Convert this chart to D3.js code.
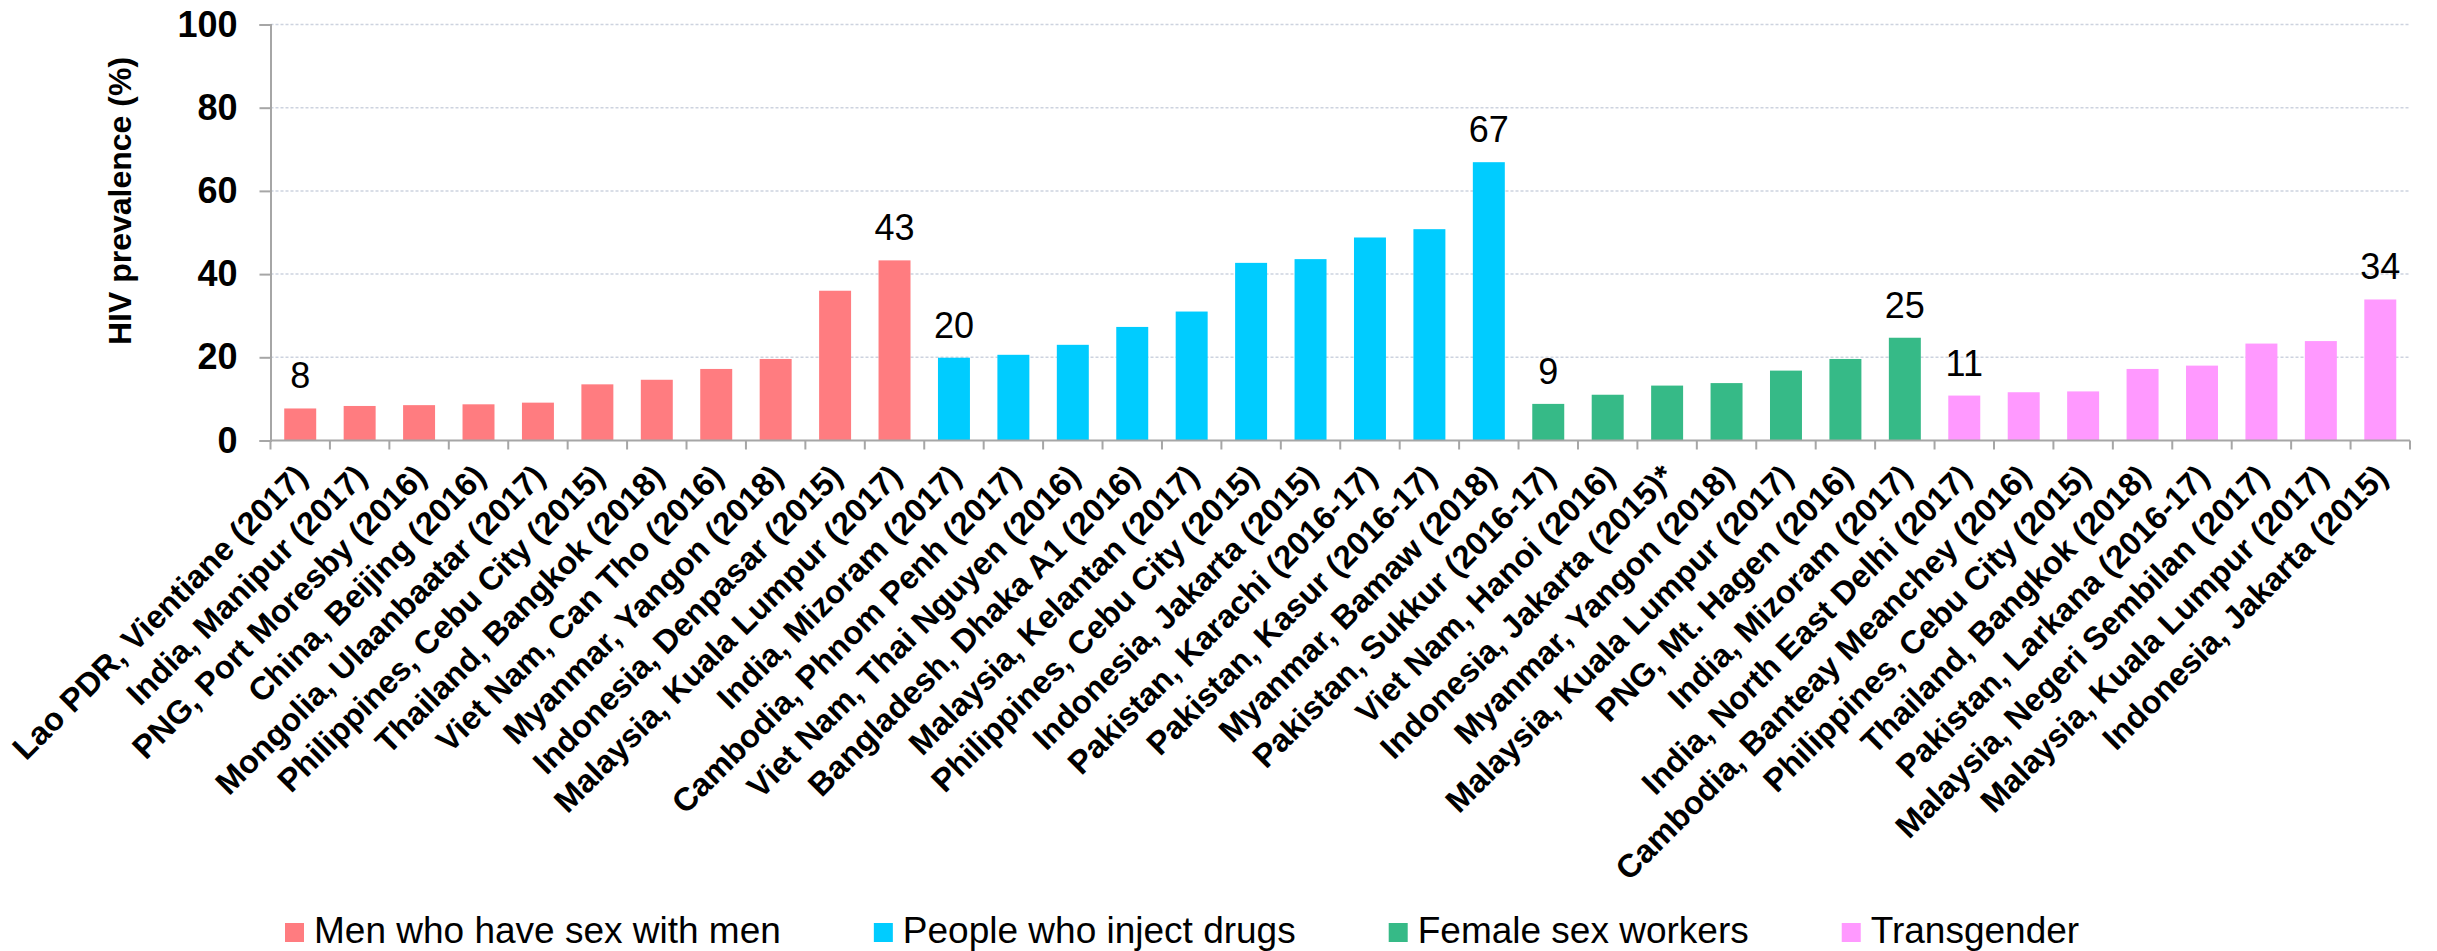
<!DOCTYPE html>
<html>
<head>
<meta charset="utf-8">
<script src="https://cdn.jsdelivr.net/npm/d3@7"></script>
<style>
  html, body { margin: 0; padding: 0; background: #fff; }
  svg { display: block; font-family: "Liberation Sans", Arial, sans-serif; }
</style>
</head>
<body>
<svg id="chart" width="2437" height="951"></svg>
<script>
// Données
const groupNames = ["Men who have sex with men", "People who inject drugs", "Female sex workers", "Transgender"];
const groupColors = ["#ff7c80", "#00ccff", "#36ba87", "#ff99ff"];

const msmSites = ["Lao PDR, Vientiane (2017)", "India, Manipur (2017)", "PNG, Port Moresby (2016)", "China, Beijing (2016)",
  "Mongolia, Ulaanbaatar (2017)", "Philippines, Cebu City (2015)", "Thailand, Bangkok (2018)", "Viet Nam, Can Tho (2016)",
  "Myanmar, Yangon (2018)", "Indonesia, Denpasar (2015)", "Malaysia, Kuala Lumpur (2017)"];
const msmValues = [7.7, 8.3, 8.5, 8.7, 9.1, 13.5, 14.6, 17.2, 19.6, 36.0, 43.3];

const pwidSites = ["India, Mizoram (2017)", "Cambodia, Phnom Penh (2017)", "Viet Nam, Thai Nguyen (2016)", "Bangladesh, Dhaka A1 (2016)",
  "Malaysia, Kelantan (2017)", "Philippines, Cebu City (2015)", "Indonesia, Jakarta (2015)", "Pakistan, Karachi (2016-17)",
  "Pakistan, Kasur (2016-17)", "Myanmar, Bamaw (2018)"];
const pwidValues = [19.9, 20.6, 23.0, 27.3, 31.0, 42.7, 43.6, 48.8, 50.8, 66.9];

const fswSites = ["Pakistan, Sukkur (2016-17)", "Viet Nam, Hanoi (2016)", "Indonesia, Jakarta (2015)*", "Myanmar, Yangon (2018)",
  "Malaysia, Kuala Lumpur (2017)", "PNG, Mt. Hagen (2016)", "India, Mizoram (2017)"];
const fswValues = [8.8, 11.0, 13.2, 13.8, 16.8, 19.6, 24.7];

const tgSites = ["India, North East Delhi (2017)", "Cambodia, Banteay Meanchey (2016)", "Philippines, Cebu City (2015)",
  "Thailand, Bangkok (2018)", "Pakistan, Larkana (2016-17)", "Malaysia, Negeri Sembilan (2017)",
  "Malaysia, Kuala Lumpur (2017)", "Indonesia, Jakarta (2015)"];
const tgValues = [10.8, 11.6, 11.8, 17.2, 18.0, 23.3, 23.9, 33.9];

const yTicks = [0, 20, 40, 60, 80, 100];

// Construire la table
const sites = [msmSites, pwidSites, fswSites, tgSites];
const values = [msmValues, pwidValues, fswValues, tgValues];
const data = [];
sites.forEach((list, g) => {
  list.forEach((name, i) => {
    data.push({
      id: g + "-" + i, name: name, value: values[g][i], group: g,
      labelled: i === 0 || i === list.length - 1
    });
  });
});

const svg = d3.select("#chart");
const plotLeft = 270.5, plotRight = 2410, plotTop = 24.5, plotBottom = 440.5;

const x = d3.scaleBand()
  .domain(data.map(d => d.id))
  .range([plotLeft, plotRight])
  .paddingInner(0.462)
  .paddingOuter(0.231);

const y = d3.scaleLinear().domain([0, 100]).range([plotBottom, plotTop]);

// Grille
svg.append("g")
  .selectAll("line")
  .data(yTicks.filter(t => t > 0))
  .enter().append("line")
  .attr("x1", plotLeft).attr("x2", plotRight)
  .attr("y1", d => y(d)).attr("y2", d => y(d))
  .attr("stroke", "#cdd3df")
  .attr("stroke-width", 1.5)
  .attr("stroke-dasharray", "3,2");

// Barres
svg.append("g")
  .selectAll("rect")
  .data(data)
  .enter().append("rect")
  .attr("x", d => x(d.id))
  .attr("y", d => y(d.value))
  .attr("width", x.bandwidth())
  .attr("height", d => y(0) - y(d.value))
  .attr("fill", d => groupColors[d.group]);

// Axe Y
const yAxis = svg.append("g")
  .attr("transform", `translate(${plotLeft},0)`)
  .call(d3.axisLeft(y).tickValues(yTicks).tickSize(11).tickPadding(22));
yAxis.select(".domain").attr("stroke", "#a6a6a6").attr("stroke-width", 2);
yAxis.selectAll(".tick line").attr("stroke", "#a6a6a6").attr("stroke-width", 2);
yAxis.selectAll(".tick text")
  .attr("font-family", "'Liberation Sans', Arial, sans-serif")
  .attr("font-size", 36)
  .attr("font-weight", "bold")
  .attr("fill", "#000");

// Axe X : ligne et graduations entre les catégories
const step = x.step();
const bounds = data.map(d => x(d.id) + x.bandwidth() / 2 - step / 2).concat([plotRight]);
svg.append("line")
  .attr("x1", plotLeft).attr("x2", plotRight)
  .attr("y1", y(0)).attr("y2", y(0))
  .attr("stroke", "#a6a6a6").attr("stroke-width", 2);
svg.append("g")
  .selectAll("line")
  .data(bounds)
  .enter().append("line")
  .attr("x1", d => d).attr("x2", d => d)
  .attr("y1", y(0)).attr("y2", y(0) + 9)
  .attr("stroke", "#a6a6a6").attr("stroke-width", 2);

// Étiquettes de l'axe X
svg.append("g")
  .selectAll("text")
  .data(data)
  .enter().append("text")
  .attr("transform", d => `translate(${x(d.id) + x.bandwidth() / 2 + 9},${y(0) + 38}) rotate(-45)`)
  .attr("text-anchor", "end")
  .attr("font-size", 32.5)
  .attr("font-weight", "bold")
  .text(d => d.name);

// Valeurs au-dessus des barres
svg.append("g")
  .selectAll("text")
  .data(data.filter(d => d.labelled))
  .enter().append("text")
  .attr("x", d => x(d.id) + x.bandwidth() / 2)
  .attr("y", d => y(d.value) - 20)
  .attr("text-anchor", "middle")
  .attr("font-size", 36)
  .text(d => Math.round(d.value));

// Titre de l'axe Y
svg.append("text")
  .attr("transform", "translate(131,201) rotate(-90)")
  .attr("text-anchor", "middle")
  .attr("font-size", 32)
  .attr("font-weight", "bold")
  .text("HIV prevalence (%)");

// Légende
const legend = svg.append("g");
let lx = 285;
groupNames.forEach((name, g) => {
  legend.append("rect")
    .attr("x", lx).attr("y", 923)
    .attr("width", 19).attr("height", 19)
    .attr("fill", groupColors[g]);
  const t = legend.append("text")
    .attr("x", lx + 29).attr("y", 943)
    .attr("font-size", 37)
    .text(name);
  lx += 29 + t.node().getComputedTextLength() + 93;
});
</script>
</body>
</html>
